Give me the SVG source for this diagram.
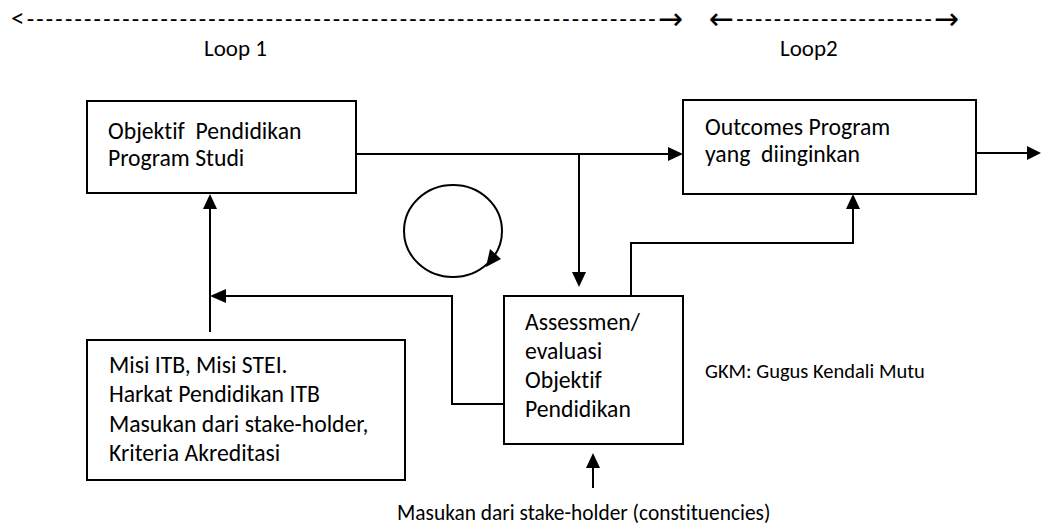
<svg xmlns="http://www.w3.org/2000/svg" width="1041" height="529" viewBox="0 0 1041 529">
  <style>
    text { font-family: Carlito, Calibri, Lato, "Liberation Sans", sans-serif; font-size: 23.7px; fill: #000; font-variant-ligatures: none; font-feature-settings: "liga" 0; }
    .label { font-size: 23px; }
    .note { font-size: 20.5px; }
    .caption { font-size: 21.4px; }
    .box { fill: #fff; stroke: #000; stroke-width: 2; }
    .wire { fill: none; stroke: #000; stroke-width: 2; }
    .head { fill: #000; stroke: none; }
    .dash { font-size: 24px; }
    .lt { font-size: 27px; }
    .arr { font-family: "DejaVu Sans", sans-serif; font-size: 30px; }
  </style>
  <rect width="1041" height="529" fill="#fff"/>

  <!-- loop spans along the top -->
  <g id="loop1">
    <text class="dash" x="11" y="27" textLength="672" lengthAdjust="spacing"><tspan class="lt">&lt;</tspan>------------------------------------------------------------------<tspan class="arr" dy="2">→</tspan></text>
    <text class="label" x="204" y="56">Loop 1</text>
  </g>
  <g id="loop2">
    <text class="dash" x="709" y="27" textLength="250" lengthAdjust="spacing"><tspan class="arr" dy="2">←</tspan><tspan dy="-2">---------------------</tspan><tspan class="arr" dy="2">→</tspan></text>
    <text class="label" x="780" y="56">Loop2</text>
  </g>

  <!-- connectors -->
  <g id="connectors">
    <!-- objectives -> outcomes -->
    <path class="wire" d="M356,154 H669"/>
    <polygon class="head" points="683,154 668,147 668,161"/>
    <!-- branch down to assessment -->
    <path class="wire" d="M579,154 V273"/>
    <polygon class="head" points="579,287 572,272 586,272"/>
    <!-- outcomes -> out -->
    <path class="wire" d="M976,153 H1028"/>
    <polygon class="head" points="1041,153 1027,146 1027,160"/>
    <!-- assessment -> outcomes -->
    <path class="wire" d="M631,296 V243 H853 V208"/>
    <polygon class="head" points="853,194 846,209 860,209"/>
    <!-- assessment -> back to objectives line -->
    <path class="wire" d="M504,404 H452 V296 H224"/>
    <polygon class="head" points="210,296 226,289 226,303"/>
    <!-- mission inputs -> objectives -->
    <path class="wire" d="M210,332 V207"/>
    <polygon class="head" points="210,194 203,209 217,209"/>
    <!-- stakeholder input -> assessment -->
    <path class="wire" d="M593,488 V466"/>
    <polygon class="head" points="593,453 586,468 600,468"/>
    <!-- cycle symbol -->
    <ellipse class="wire" cx="453" cy="231" rx="49" ry="46"/>
    <polygon class="head" points="486,267 490,249 501,259"/>
  </g>

  <!-- nodes -->
  <g id="objektif">
    <rect class="box" x="87" y="101" width="269" height="92"/>
    <text x="108" y="139" xml:space="preserve">Objektif  Pendidikan</text>
    <text x="108" y="166">Program Studi</text>
  </g>
  <g id="outcomes">
    <rect class="box" x="683" y="100" width="293" height="94"/>
    <text x="705" y="135">Outcomes Program</text>
    <text x="705" y="162" xml:space="preserve">yang  diinginkan</text>
  </g>
  <g id="assessmen">
    <rect class="box" x="504" y="296" width="179" height="148"/>
    <text x="525" y="330">Assessmen/</text>
    <text x="525" y="359">evaluasi</text>
    <text x="525" y="388">Objektif</text>
    <text x="525" y="417">Pendidikan</text>
  </g>
  <g id="misi">
    <rect class="box" x="87" y="340" width="318" height="140"/>
    <text x="109" y="373">Misi ITB, Misi STEI.</text>
    <text x="109" y="402">Harkat Pendidikan ITB</text>
    <text x="109" y="432">Masukan dari stake-holder,</text>
    <text x="109" y="461">Kriteria Akreditasi</text>
  </g>
  <g id="gkm">
    <text class="note" x="705" y="378">GKM: Gugus Kendali Mutu</text>
  </g>
  <g id="stakeholder">
    <text class="caption" x="397" y="520">Masukan dari stake-holder (constituencies)</text>
  </g>
</svg>
